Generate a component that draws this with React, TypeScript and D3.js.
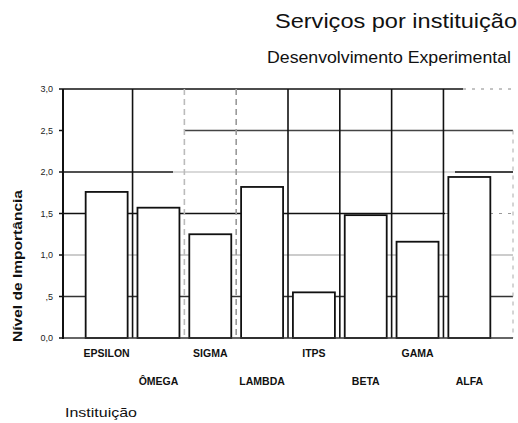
import { useEffect, useRef } from 'react';
import * as d3 from 'd3';

// Dados
const instituicoes = ['EPSILON', 'ÔMEGA', 'SIGMA', 'LAMBDA', 'ITPS', 'BETA', 'GAMA', 'ALFA'];
const importancia = [1.76, 1.57, 1.25, 1.82, 0.55, 1.48, 1.16, 1.94];
const yTicks = [0, 0.5, 1, 1.5, 2, 2.5, 3];
const yTickLabels = ['0,0', ',5', '1,0', '1,5', '2,0', '2,5', '3,0'];

const W = 518;
const H = 423;

export default function App() {
    const svgRef = useRef<SVGSVGElement>(null);

    useEffect(() => {
        if (!svgRef.current) return;
        const svg = d3.select(svgRef.current);
        svg.selectAll('*').remove();

        const left = 63, right = 513, top = 89, bottom = 338;
        const font = 'Liberation Sans, Arial, sans-serif';

        const y = d3.scaleLinear().domain([0, 3]).range([bottom, top]);
        const x = d3.scaleBand<string>().domain(instituicoes).range([81, 495]).paddingInner(0.19).paddingOuter(0.09);

        // grade horizontal (cada linha com um tom, como no original digitalizado)
        const hStyle: Record<number, { c: string; x0: number; x1: number }> = {
            0.5: { c: '#333', x0: left, x1: right },
            1: { c: '#bbb', x0: left, x1: right },
            1.5: { c: '#111', x0: left, x1: 445 },
            2: { c: '#ccc', x0: left, x1: right },
            2.5: { c: '#444', x0: 185, x1: right },
            3: { c: '#111', x0: left, x1: 463 }
        };
        yTicks.filter(t => t > 0).forEach(t => {
            const s = hStyle[t];
            svg.append('line')
                .attr('x1', s.x0).attr('x2', s.x1)
                .attr('y1', y(t)).attr('y2', y(t))
                .attr('stroke', s.c).attr('stroke-width', 1.6);
        });
        svg.append('line')
            .attr('x1', 463).attr('x2', right).attr('y1', y(3)).attr('y2', y(3))
            .attr('stroke', '#888').attr('stroke-width', 1).attr('stroke-dasharray', '3,6');
        svg.append('line')
            .attr('x1', 445).attr('x2', right).attr('y1', y(1.5)).attr('y2', y(1.5))
            .attr('stroke', '#999').attr('stroke-width', 1).attr('stroke-dasharray', '3,6');
        // trechos escuros da linha 2,0
        svg.append('line')
            .attr('x1', left).attr('x2', 173).attr('y1', y(2)).attr('y2', y(2))
            .attr('stroke', '#222').attr('stroke-width', 1.6);
        svg.append('line')
            .attr('x1', 455).attr('x2', right).attr('y1', y(2)).attr('y2', y(2))
            .attr('stroke', '#111').attr('stroke-width', 1.6);

        // grade vertical nas divisões entre categorias
        const vColors = ['#111', '#bbb', '#999', '#111', '#111', '#111', '#111'];
        instituicoes.slice(1).forEach((c, i) => {
            const bx = (x(c) as number) - (x.step() * x.paddingInner()) / 2;
            svg.append('line')
                .attr('x1', bx).attr('x2', bx)
                .attr('y1', top).attr('y2', bottom)
                .attr('stroke', vColors[i]).attr('stroke-width', 1.6)
                .attr('stroke-dasharray', i === 1 || i === 2 ? '6,4' : null);
        });
        svg.append('line')
            .attr('x1', right).attr('x2', right).attr('y1', y(2.5)).attr('y2', bottom)
            .attr('stroke', '#aaa').attr('stroke-width', 1).attr('stroke-dasharray', '4,5');

        // barras
        svg.append('g').selectAll('rect')
            .data(instituicoes)
            .enter().append('rect')
            .attr('x', d => x(d) as number)
            .attr('width', x.bandwidth())
            .attr('y', (d, i) => y(importancia[i]))
            .attr('height', (d, i) => bottom - y(importancia[i]))
            .attr('fill', '#fff')
            .attr('stroke', '#111')
            .attr('stroke-width', 1.8);

        // eixos
        svg.append('line')
            .attr('x1', left).attr('x2', right).attr('y1', bottom).attr('y2', bottom)
            .attr('stroke', '#333').attr('stroke-width', 1.4);
        svg.append('line')
            .attr('x1', left).attr('x2', left).attr('y1', top).attr('y2', bottom + 1)
            .attr('stroke', '#111').attr('stroke-width', 2);

        yTicks.forEach((t, i) => {
            svg.append('line')
                .attr('x1', left - 4).attr('x2', left).attr('y1', y(t)).attr('y2', y(t))
                .attr('stroke', '#111').attr('stroke-width', 1.5);
            svg.append('text')
                .attr('x', 53).attr('y', y(t)).attr('dy', '0.35em')
                .attr('text-anchor', 'end')
                .attr('font-family', font).attr('font-size', 9)
                .attr('fill', '#222')
                .text(yTickLabels[i]);
        });

        // rótulos das categorias em duas linhas alternadas
        instituicoes.forEach((c, i) => {
            svg.append('text')
                .attr('x', (x(c) as number) + x.bandwidth() / 2)
                .attr('y', i % 2 === 0 ? 357 : 385)
                .attr('text-anchor', 'middle')
                .attr('font-family', font).attr('font-size', 10.5).attr('font-weight', 'bold')
                .attr('fill', '#111')
                .text(c);
        });

        // títulos
        svg.append('text')
            .attr('x', 275).attr('y', 28)
            .attr('font-family', font).attr('font-size', 21)
            .attr('textLength', 242).attr('lengthAdjust', 'spacingAndGlyphs')
            .attr('fill', '#111')
            .text('Serviços por instituição');
        svg.append('text')
            .attr('x', 267).attr('y', 63)
            .attr('font-family', font).attr('font-size', 16)
            .attr('textLength', 244).attr('lengthAdjust', 'spacingAndGlyphs')
            .attr('fill', '#111')
            .text('Desenvolvimento Experimental');
        svg.append('text')
            .attr('x', 65).attr('y', 417)
            .attr('font-family', font).attr('font-size', 12.5)
            .attr('textLength', 72).attr('lengthAdjust', 'spacingAndGlyphs')
            .attr('fill', '#111')
            .text('Instituição');
        svg.append('text')
            .attr('transform', 'translate(22,266) rotate(-90)')
            .attr('text-anchor', 'middle')
            .attr('font-family', font).attr('font-size', 12).attr('font-weight', 'bold')
            .attr('textLength', 152).attr('lengthAdjust', 'spacingAndGlyphs')
            .attr('fill', '#111')
            .text('Nível de Importância');
    }, []);

    return (
        <svg
            ref={svgRef}
            width={W}
            height={H}
            style={{ position: 'absolute', left: 0, top: 0, background: '#fff' }}
        />
    );
}
